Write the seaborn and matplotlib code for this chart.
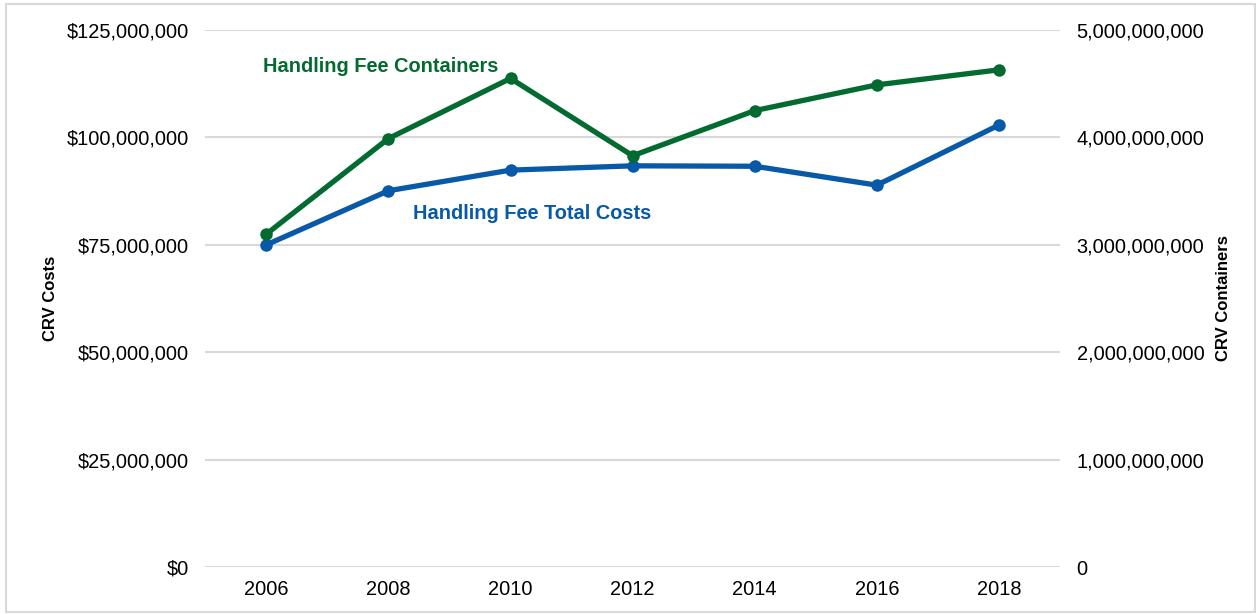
import matplotlib
matplotlib.use("Agg")
import matplotlib.pyplot as plt
import matplotlib.ticker as mticker
from matplotlib.patches import Rectangle
import seaborn as sns
import pandas as pd

years = ["2006", "2008", "2010", "2012", "2014", "2016", "2018"]
total_costs = [75.0e6, 87.6e6, 92.4e6, 93.4e6, 93.3e6, 88.9e6, 102.9e6]
containers = [3.10e9, 3.99e9, 4.55e9, 3.83e9, 4.25e9, 4.49e9, 4.63e9]

cost_ticks = [0, 25e6, 50e6, 75e6, 100e6, 125e6]
container_ticks = [0, 1e9, 2e9, 3e9, 4e9, 5e9]

GREEN = "#036B30"
BLUE = "#0859A8"
GRID = "#D9D9D9"

sns.set_theme(style="white")
plt.rcParams["font.family"] = ["Liberation Sans", "DejaVu Sans"]

df = pd.DataFrame({"year": years, "costs": total_costs, "containers": containers})

fig = plt.figure(figsize=(12.59, 6.14), dpi=100)
ax = fig.add_axes([0.163, 0.0765, 0.679, 0.8745])
ax2 = ax.twinx()

sns.lineplot(data=df, x="year", y="containers", ax=ax2, color=GREEN,
             linewidth=3.8, marker="o", markersize=9, markeredgewidth=0, sort=False)
sns.lineplot(data=df, x="year", y="costs", ax=ax, color=BLUE,
             linewidth=3.8, marker="o", markersize=9, markeredgewidth=0, sort=False)

ax.set_zorder(ax2.get_zorder() - 1)
ax.patch.set_visible(False)
ax2.patch.set_visible(False)

ax.set_xlim(-0.5, len(years) - 0.5)
ax.set_ylim(0, 125e6)
ax2.set_ylim(0, 5e9)
ax.set_yticks(cost_ticks)
ax2.set_yticks(container_ticks)
ax.yaxis.set_major_formatter(mticker.FuncFormatter(lambda v, p: f"${v:,.0f}"))
ax2.yaxis.set_major_formatter(mticker.FuncFormatter(lambda v, p: f"{v:,.0f}"))

ax.grid(axis="y", color=GRID, linewidth=1.5)
ax.grid(axis="x", visible=False)
ax2.grid(False)

for a in (ax, ax2):
    for s in a.spines.values():
        s.set_visible(False)
    a.tick_params(axis="both", length=0, labelsize=14.4, colors="#000000")

ax.tick_params(axis="y", pad=12)
ax2.tick_params(axis="y", pad=12)
ax.tick_params(axis="x", pad=9)

ax.set_xlabel("")
ax.set_ylabel("CRV Costs", fontsize=12, fontweight="bold", labelpad=6, color="#000000")
ax2.set_ylabel("CRV Containers", fontsize=12, fontweight="bold", labelpad=8, color="#000000")

ax2.text(-0.03, 4.66e9, "Handling Fee Containers", color=GREEN, fontsize=14.4,
         fontweight="bold", ha="left", va="center")
ax.text(1.2, 82.3e6, "Handling Fee Total Costs", color=BLUE, fontsize=14.4,
        fontweight="bold", ha="left", va="center")

fig.patches.append(Rectangle((0.005, 0.003), 0.992, 0.99, transform=fig.transFigure,
                             fill=False, edgecolor="#D9D9D9", linewidth=1.5))

fig.savefig("out.png", dpi=100, facecolor="white")
